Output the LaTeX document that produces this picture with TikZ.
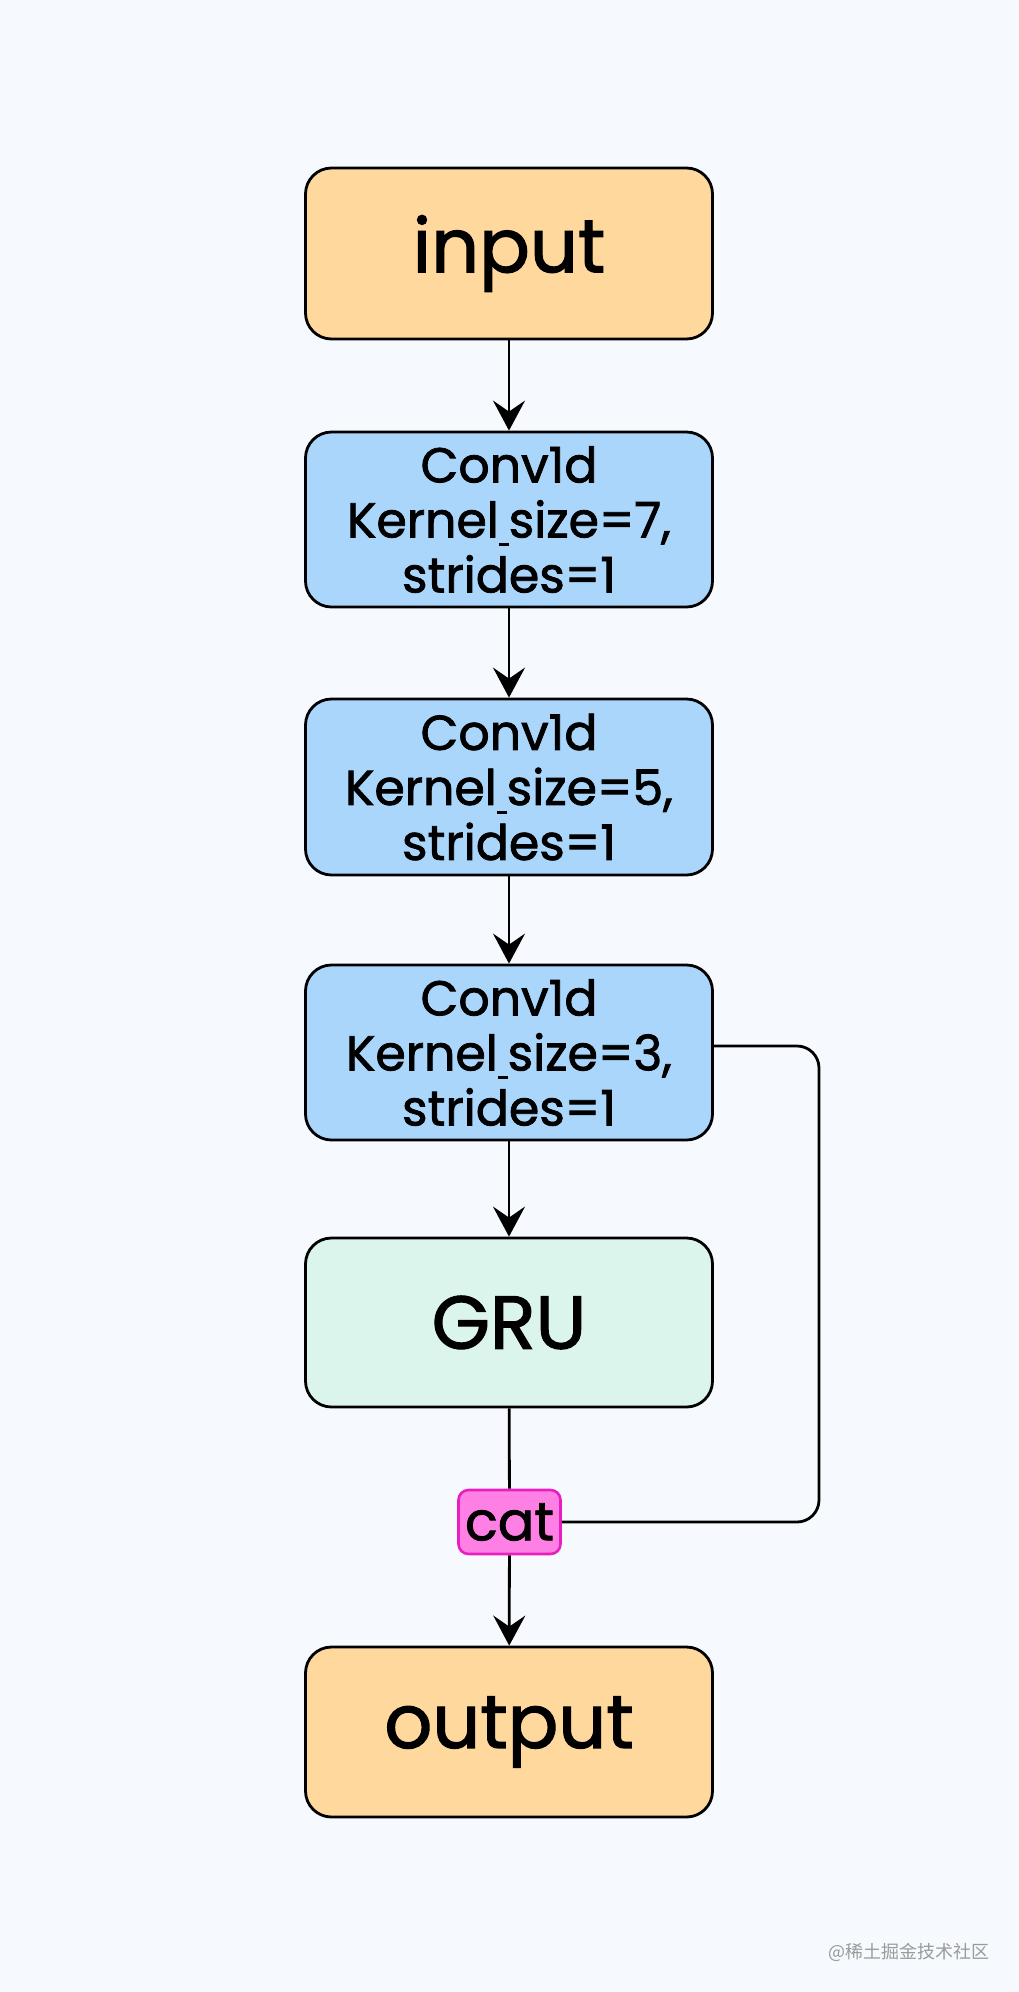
\documentclass[tikz,border=0pt]{standalone}
\usepackage{fontspec}
\setmainfont{Poppins}[FakeBold=1.6]
\newfontfamily\cjkfont{Noto Sans CJK SC}
\usetikzlibrary{arrows.meta,positioning}
\definecolor{bgc}{HTML}{F6FAFE}
\definecolor{peach}{HTML}{FFD89D}
\definecolor{skyb}{HTML}{AAD6FB}
\definecolor{mint}{HTML}{DCF5EC}
\definecolor{pinkf}{HTML}{FF80E4}
\definecolor{pinkd}{HTML}{E81EC0}
\definecolor{wmgray}{HTML}{9A9A9A}
\newcommand{\uscore}{\makebox[0.2em]{\rule[-0.18em]{0.2em}{0.06em}}}
\tikzset{
  box/.style={draw=black, line width=2.8pt, rounded corners=26pt,
    minimum width=407pt, inner sep=0pt, align=center},
  bigtxt/.style={font=\fontsize{75}{80}\selectfont},
  convtxt/.style={font=\fontsize{49}{55}\selectfont},
  conn/.style={draw=black, line width=2.8pt},
  arr/.style={conn, -{Stealth[length=30pt,width=32pt,inset=11pt]}},
}
\begin{document}
\begin{tikzpicture}[x=1pt,y=-1pt]
\fill[bgc] (0,0) rectangle (1019,1992);
\useasboundingbox (0,0) rectangle (1019,1992);

\node[box, bigtxt, fill=peach, minimum height=171pt] (input) at (509,253.5) {input};
\node[box, convtxt, fill=skyb, minimum height=175pt] (c1) at (509,519.5) {Conv1d\\Kernel\uscore size=7,\\strides=1};
\node[box, convtxt, fill=skyb, minimum height=176pt] (c2) at (509,787) {Conv1d\\Kernel\uscore size=5,\\strides=1};
\node[box, convtxt, fill=skyb, minimum height=175pt] (c3) at (509,1052.5) {Conv1d\\Kernel\uscore size=3,\\strides=1};
\node[box, bigtxt, fill=mint, minimum height=169pt] (gru) at (509,1322.5) {GRU};
\node[draw=pinkd, fill=pinkf, line width=2.6pt, rounded corners=10pt,
  minimum width=102pt, minimum height=64pt, inner sep=0pt,
  font=\fontsize{54}{58}\selectfont] (cat) at (509.5,1522) {cat};
\node[box, bigtxt, fill=peach, minimum height=170pt] (output) at (509,1732) {output};

\coordinate (fbstart) at (c3.east |- 0,1046);
\draw[arr] (input) -- (c1);
\draw[arr] (c1) -- (c2);
\draw[arr] (c2) -- (c3);
\draw[arr] (c3) -- (gru);
\draw[conn] (gru) -- (cat);
\draw[arr] (cat) -- (output);
\draw[conn, rounded corners=22pt] (fbstart) -- (819,1046) -- (819,1522) -- (cat.east);

\node[font=\cjkfont\fontsize{18}{22}\selectfont, text=wmgray, anchor=east, inner sep=0pt] (wm) at (990,1952) {@稀土掘金技术社区};
\end{tikzpicture}
\end{document}
